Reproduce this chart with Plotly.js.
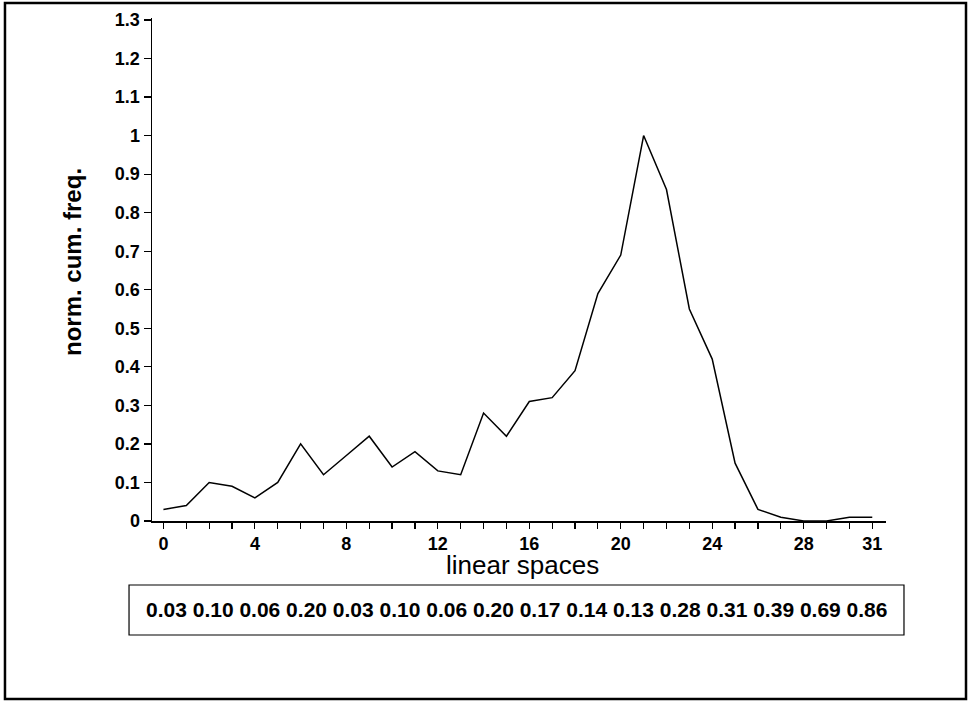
<!DOCTYPE html>
<html>
<head>
<meta charset="utf-8">
<script src="https://cdn.plot.ly/plotly-3.0.1.min.js"></script>
<style>
  html, body { margin: 0; padding: 0; background: #fff; }
  #chart { width: 969px; height: 702px; }
</style>
</head>
<body>
<div id="chart"></div>
<script>
// linear space index and normalised cumulative frequency
const spaces = [0,1,2,3,4,5,6,7,8,9,10,11,12,13,14,15,16,17,18,19,20,21,22,23,24,25,26,27,28,29,30,31];
const normCumFreq = [0.03,0.04,0.10,0.09,0.06,0.10,0.20,0.12,0.17,0.22,0.14,0.18,0.13,0.12,0.28,0.22,
                     0.31,0.32,0.39,0.59,0.69,1.00,0.86,0.55,0.42,0.15,0.03,0.01,0.00,0.00,0.01,0.01];

// x ticks at every space, labelled only at a few
const xTickVals = spaces;
const xLabelled = [0,4,8,12,16,20,24,28,31];
const yTickVals = [0,0.1,0.2,0.3,0.4,0.5,0.6,0.7,0.8,0.9,1,1.1,1.2,1.3];
const yTickText = ["0","0.1","0.2","0.3","0.4","0.5","0.6","0.7","0.8","0.9","1","1.1","1.2","1.3"];

// values listed in the box below the plot
const boxValues = ["0.03","0.10","0.06","0.20","0.03","0.10","0.06","0.20",
                   "0.17","0.14","0.13","0.28","0.31","0.39","0.69","0.86"];

const FONT = "Liberation Sans, Arial, Helvetica, sans-serif";

const trace = {
  x: spaces,
  y: normCumFreq,
  type: "scatter",
  mode: "lines",
  line: { color: "#000", width: 1.5 },
  hoverinfo: "x+y"
};

const layout = {
  width: 969,
  height: 702,
  margin: { l: 152, r: 83, t: 18, b: 181 },
  paper_bgcolor: "#fff",
  plot_bgcolor: "#fff",
  showlegend: false,
  font: { family: FONT, color: "#000" },
  xaxis: {
    range: [-0.5, 31.6],
    showgrid: false,
    zeroline: false,
    showline: true,
    linecolor: "#000",
    linewidth: 1.5,
    ticks: "outside",
    ticklen: 6,
    tickwidth: 1.2,
    tickcolor: "#000",
    tickmode: "array",
    tickvals: xTickVals,
    ticktext: xTickVals.map(v => xLabelled.includes(v) ? String(v) : ""),
    tickfont: { family: FONT, size: 18, weight: "bold", color: "#000" }
  },
  yaxis: {
    range: [0, 1.305],
    showgrid: false,
    zeroline: false,
    showline: true,
    linecolor: "#000",
    linewidth: 1.5,
    ticks: "outside",
    ticklen: 7,
    tickwidth: 1.2,
    tickcolor: "#000",
    tickmode: "array",
    tickvals: yTickVals,
    ticktext: yTickText,
    tickfont: { family: FONT, size: 18, weight: "bold", color: "#000" }
  },
  shapes: [
    // outer frame
    { type: "rect", xref: "paper", yref: "paper",
      x0: -0.2003, x1: 1.109, y0: -0.354, y1: 1.0298,
      line: { color: "#000", width: 2.5 }, fillcolor: "rgba(0,0,0,0)" },
    // value box
    { type: "rect", xref: "paper", yref: "paper",
      x0: -0.0313, x1: 1.0245, y0: -0.2266, y1: -0.1272,
      line: { color: "#000", width: 1.2 }, fillcolor: "rgba(0,0,0,0)" }
  ],
  annotations: [
    { text: "linear spaces", xref: "paper", yref: "paper",
      x: 0.5054, y: -0.0875, xanchor: "center", yanchor: "middle",
      showarrow: false, font: { family: FONT, size: 26, color: "#000" } },
    { text: "norm. cum. freq.", xref: "paper", yref: "paper",
      x: -0.1076, y: 0.515, xanchor: "center", yanchor: "middle",
      textangle: -90, showarrow: false,
      font: { family: FONT, size: 24, weight: "bold", color: "#000" } },
    { text: boxValues.join(" "), xref: "paper", yref: "paper",
      x: 0.4966, y: -0.1769, xanchor: "center", yanchor: "middle",
      showarrow: false,
      font: { family: FONT, size: 21, weight: "bold", color: "#000" } }
  ]
};

Plotly.newPlot("chart", [trace], layout, { displayModeBar: false, staticPlot: true });
</script>
</body>
</html>
